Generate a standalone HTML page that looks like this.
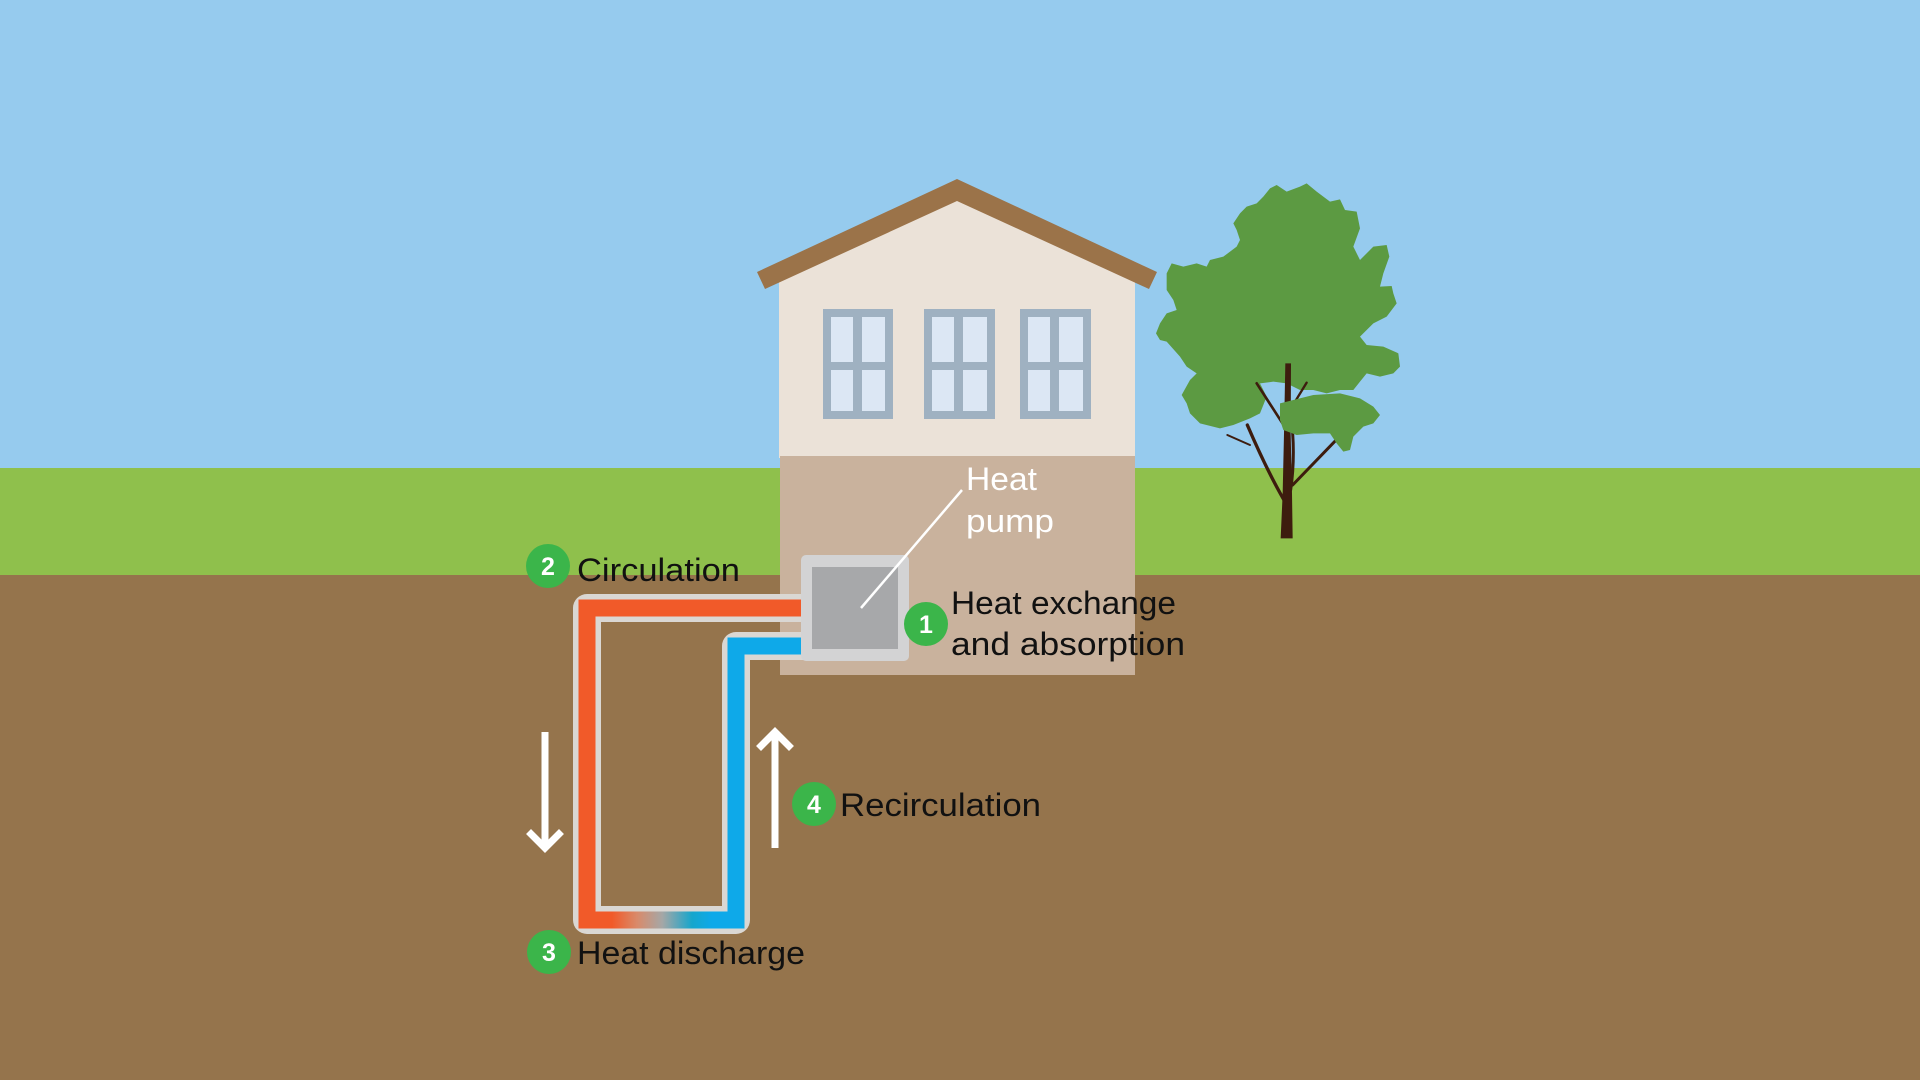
<!DOCTYPE html>
<html>
<head>
<meta charset="utf-8">
<style>
html,body{margin:0;padding:0;width:1920px;height:1080px;overflow:hidden;background:#96cbee;}
svg{display:block;}
text{font-family:"Liberation Sans",Arial,sans-serif;}
</style>
</head>
<body>
<svg width="1920" height="1080" viewBox="0 0 1920 1080" xmlns="http://www.w3.org/2000/svg">
  <defs>
    <linearGradient id="pg" x1="612" y1="0" x2="712" y2="0" gradientUnits="userSpaceOnUse">
      <stop offset="0" stop-color="#f15a29"/>
      <stop offset="0.25" stop-color="#d98a6a"/>
      <stop offset="0.5" stop-color="#a6a7a6"/>
      <stop offset="0.8" stop-color="#17a6cc"/>
      <stop offset="1" stop-color="#0ea9e9"/>
    </linearGradient>
  </defs>
  <!-- sky -->
  <rect x="0" y="0" width="1920" height="470" fill="#96cbee"/>
  <!-- grass -->
  <rect x="0" y="468" width="1920" height="108" fill="#8fc04c"/>
  <!-- ground -->
  <rect x="0" y="575" width="1920" height="505" fill="#95744c"/>

  <!-- tree canopy (coords from 3x zoom) -->
  <g transform="translate(1140,160) scale(0.33333)">
    <path fill="#5c9a42" d="M390,85 L410,75 L440,95 L480,80 L500,70 L530,95 L570,125 L600,118 L615,150 L650,155 L660,205 L640,260 L660,300 L700,260 L740,255 L748,290 L730,340 L720,380 L755,378 L760,400 L770,430 L740,470 L700,490 L660,530 L680,555 L730,560 L775,580 L780,620 L760,640 L720,650 L680,640 L660,665 L640,690 L600,690 L560,700 L520,690 L480,690 L440,670 L400,665 L360,670 L380,710 L360,760 L330,775 L280,795 L240,805 L180,790 L150,760 L140,730 L125,705 L150,660 L170,640 L140,620 L120,590 L80,545 L60,540 L48,520 L60,490 L80,460 L110,450 L100,420 L80,390 L80,340 L95,310 L130,320 L170,310 L200,320 L210,300 L250,290 L290,260 L300,240 L290,210 L280,190 L300,160 L320,140 L350,130 L370,110 Z"/>
    <!-- trunk and branches -->
    <g stroke="#3d1c0e" fill="none" stroke-linecap="round">
      <path d="M432,1020 Q380,930 322,795" stroke-width="10"/>
      <path d="M330,855 L262,825" stroke-width="6"/>
      <path d="M458,975 Q530,900 598,830" stroke-width="9"/>
      <path d="M434,800 L350,670" stroke-width="8"/>
      <path d="M462,730 L500,668" stroke-width="7"/>
      <path d="M452,990 Q468,880 452,760" stroke-width="9"/>
    </g>
    <polygon fill="#3d1c0e" points="422,1135 458,1135 456,1000 452,820 453,610 436,610 432,820 428,1000"/>
    <!-- lower right lobe -->
    <path fill="#5c9a42" d="M420,730 L460,720 L520,705 L600,700 L660,715 L700,740 L720,765 L700,790 L670,800 L640,830 L630,870 L610,875 L590,850 L570,820 L520,820 L470,825 L430,810 L420,780 Z"/>
  </g>

  <!-- house wall -->
  <polygon fill="#ebe2d8" points="779,458 779,275 957,192 1135,275 1135,458"/>
  <!-- roof -->
  <polygon fill="#9b7349" points="757,272 957,179 1157,272 1149,289 957,201 765,289"/>
  <!-- windows -->
  <g>
    <rect x="823" y="309" width="70" height="110" fill="#9fb1c1"/>
    <rect x="831" y="317" width="22" height="45" fill="#dce7f4"/>
    <rect x="862" y="317" width="23" height="45" fill="#dce7f4"/>
    <rect x="831" y="370" width="22" height="41" fill="#dce7f4"/>
    <rect x="862" y="370" width="23" height="41" fill="#dce7f4"/>

    <rect x="924" y="309" width="71" height="110" fill="#9fb1c1"/>
    <rect x="932" y="317" width="22" height="45" fill="#dce7f4"/>
    <rect x="963" y="317" width="24" height="45" fill="#dce7f4"/>
    <rect x="932" y="370" width="22" height="41" fill="#dce7f4"/>
    <rect x="963" y="370" width="24" height="41" fill="#dce7f4"/>

    <rect x="1020" y="309" width="71" height="110" fill="#9fb1c1"/>
    <rect x="1028" y="317" width="22" height="45" fill="#dce7f4"/>
    <rect x="1059" y="317" width="24" height="45" fill="#dce7f4"/>
    <rect x="1028" y="370" width="22" height="41" fill="#dce7f4"/>
    <rect x="1059" y="370" width="24" height="41" fill="#dce7f4"/>
  </g>
  <!-- basement -->
  <rect x="780" y="456" width="355" height="219" fill="#c9b29d"/>

  <!-- pipes -->
  <path d="M805,608 H587 V920 H736 V646 H805" fill="none" stroke="#dad7d3" stroke-width="28" stroke-linejoin="round"/>
  <path d="M700,920 H736 V646 H805" fill="none" stroke="#0ea9e9" stroke-width="17" stroke-linejoin="miter"/>
  <path d="M805,608 H587 V920 H640" fill="none" stroke="#f15a29" stroke-width="17" stroke-linejoin="miter"/>
  <rect x="612" y="911.5" width="104" height="17" fill="url(#pg)"/>

  <!-- heat pump box -->
  <rect x="801" y="555" width="108" height="106" rx="5" fill="#d3d3d4"/>
  <rect x="812" y="567" width="86" height="82" fill="#a7a8aa"/>
  <!-- leader line -->
  <line x1="962" y1="490" x2="861" y2="608" stroke="#ffffff" stroke-width="2.5"/>

  <!-- arrows -->
  <g stroke="#ffffff" stroke-width="7" fill="none">
    <line x1="545" y1="732" x2="545" y2="846"/>
    <polyline points="531,834 545,848 559,834" stroke-linecap="square"/>
    <line x1="775" y1="848" x2="775" y2="734"/>
    <polyline points="761,746 775,732 789,746" stroke-linecap="square"/>
  </g>

  <!-- number circles -->
  <g fill="#3bb54a">
    <circle cx="548" cy="566" r="22"/>
    <circle cx="926" cy="624" r="22"/>
    <circle cx="814" cy="804" r="22"/>
    <circle cx="549" cy="952" r="22"/>
  </g>
  <g fill="#ffffff" font-weight="bold" font-size="25" text-anchor="middle">
    <text x="548" y="575">2</text>
    <text x="926" y="633">1</text>
    <text x="814" y="813">4</text>
    <text x="549" y="961">3</text>
  </g>

  <!-- labels -->
  <g fill="#111111" font-size="32">
    <text x="577" y="581" textLength="163" lengthAdjust="spacingAndGlyphs">Circulation</text>
    <text x="951" y="614" textLength="225" lengthAdjust="spacingAndGlyphs">Heat exchange</text>
    <text x="951" y="655" textLength="234" lengthAdjust="spacingAndGlyphs">and absorption</text>
    <text x="840" y="816" textLength="201" lengthAdjust="spacingAndGlyphs">Recirculation</text>
    <text x="577" y="964" textLength="228" lengthAdjust="spacingAndGlyphs">Heat discharge</text>
  </g>
  <g fill="#ffffff" font-size="32">
    <text x="966" y="490" textLength="71" lengthAdjust="spacingAndGlyphs">Heat</text>
    <text x="966" y="532" textLength="88" lengthAdjust="spacingAndGlyphs">pump</text>
  </g>
</svg>
</body>
</html>
